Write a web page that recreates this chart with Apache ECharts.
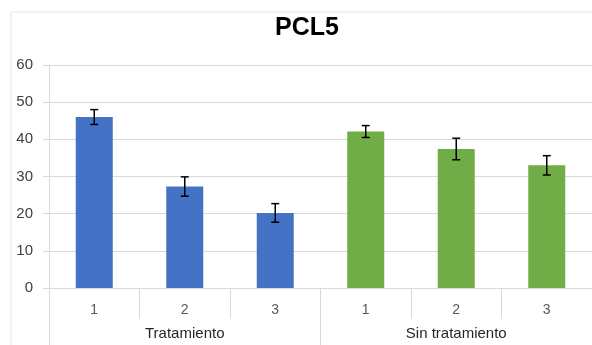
<!DOCTYPE html>
<html>
<head>
<meta charset="utf-8">
<script src="https://cdn.jsdelivr.net/npm/echarts@6/dist/echarts.min.js"></script>
<style>html,body{margin:0;padding:0;background:#fff;}#c{width:592px;height:345px;}</style>
</head>
<body>
<div id="c"></div>
<script>
const chartTitle = 'PCL5';
const groups = ['Tratamiento', 'Sin tratamiento'];
const subCategories = ['1', '2', '3'];
const tratamiento = [46.0, 27.3, 20.2];
const tratamientoErr = [2.0, 2.6, 2.5];
const sinTratamiento = [42.1, 37.4, 33.0];
const sinTratamientoErr = [1.6, 2.9, 2.6];
const yMin = 0, yMax = 60, yStep = 10;

const cats = [];
groups.forEach((g, gi) => subCategories.forEach(s => cats.push(s)));
const n = subCategories.length;
const blueData = cats.map((_, i) => i < n ? tratamiento[i] : '-');
const greenData = cats.map((_, i) => i >= n ? sinTratamiento[i - n] : '-');
const errData = [];
tratamiento.forEach((v, i) => errData.push([i, v - tratamientoErr[i], v + tratamientoErr[i]]));
sinTratamiento.forEach((v, i) => errData.push([n + i, v - sinTratamientoErr[i], v + sinTratamientoErr[i]]));

const chart = echarts.init(document.getElementById('c'), null, {renderer: 'canvas'});
const font = 'Liberation Sans, Arial, sans-serif';
chart.setOption({
  animation: false,
  backgroundColor: '#fff',
  graphic: [
    {type: 'rect', shape: {x: 11, y: 12, width: 640, height: 400}, style: {fill: 'none', stroke: '#e6e6e6', lineWidth: 1}, z: -1},
    {type: 'text', x: 307, y: 28, style: {text: chartTitle, font: 'bold 25px ' + font, fill: '#000', textAlign: 'center', textVerticalAlign: 'middle'}}
  ],
  grid: {left: 49, right: 0, top: 65, bottom: 57, containLabel: false},
  xAxis: [
    {
      type: 'category', data: cats, position: 'bottom',
      axisLine: {show: true, lineStyle: {color: '#d9d9d9', width: 1}},
      axisTick: {show: true, length: 31, interval: 0, lineStyle: {color: '#d9d9d9'}},
      axisLabel: {interval: 0, margin: 15, color: '#595959', fontSize: 14, fontFamily: font},
      splitLine: {show: false}
    },
    {
      type: 'category', data: groups, position: 'bottom',
      axisLine: {show: false},
      axisTick: {show: true, length: 58, interval: 0, lineStyle: {color: '#d9d9d9'}},
      axisLabel: {interval: 0, margin: 38, color: '#262626', fontSize: 15, fontFamily: font},
      splitLine: {show: false}
    }
  ],
  yAxis: {
    type: 'value', min: yMin, max: yMax, interval: yStep,
    axisLine: {show: true, lineStyle: {color: '#d9d9d9'}},
    axisTick: {show: true, length: 6, lineStyle: {color: '#d9d9d9'}},
    axisLabel: {margin: 16, color: '#404040', fontSize: 15, fontFamily: font},
    splitLine: {show: true, lineStyle: {color: '#d9d9d9', width: 1}}
  },
  series: [
    {type: 'bar', name: groups[0], data: blueData, xAxisIndex: 0, barWidth: 37, barGap: '-100%',
     itemStyle: {color: '#4472C4'}},
    {type: 'bar', name: groups[1], data: greenData, xAxisIndex: 0, barWidth: 37, barGap: '-100%',
     itemStyle: {color: '#70AD47'}},
    {type: 'custom', name: 'error', xAxisIndex: 0, data: errData, z: 10,
     encode: {x: 0, y: [1, 2]},
     renderItem: function (params, api) {
       const x = api.value(0);
       const lo = api.coord([x, api.value(1)]);
       const hi = api.coord([x, api.value(2)]);
       const hw = 4;
       const st = {stroke: '#000', lineWidth: 1.5};
       return {type: 'group', children: [
         {type: 'line', shape: {x1: lo[0], y1: lo[1], x2: hi[0], y2: hi[1]}, style: st},
         {type: 'line', shape: {x1: lo[0] - hw, y1: lo[1], x2: lo[0] + hw, y2: lo[1]}, style: st},
         {type: 'line', shape: {x1: hi[0] - hw, y1: hi[1], x2: hi[0] + hw, y2: hi[1]}, style: st}
       ]};
     }}
  ]
});
</script>
</body>
</html>
